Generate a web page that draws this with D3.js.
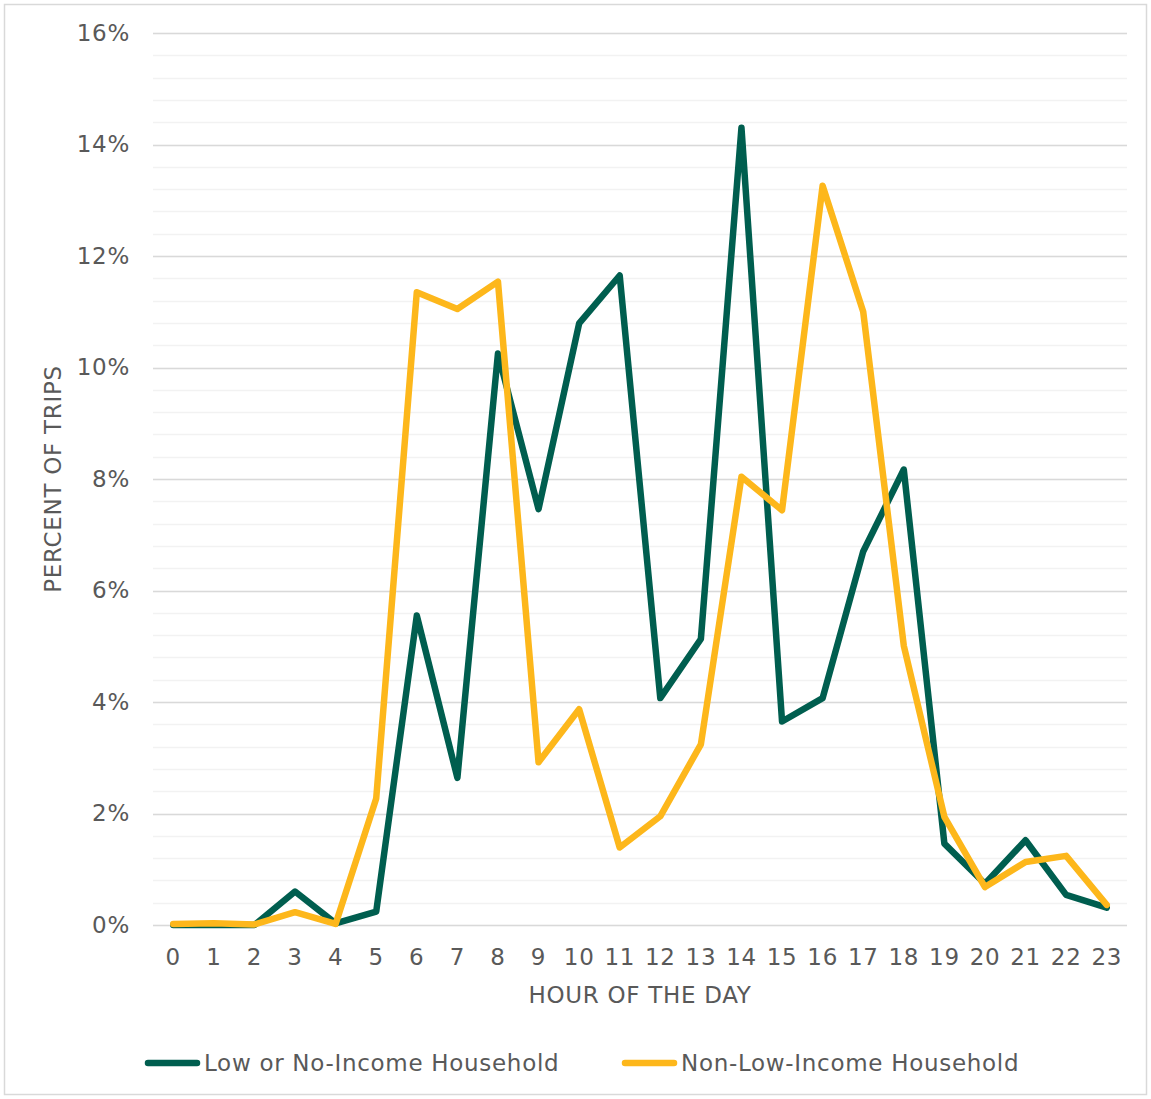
<!DOCTYPE html>
<html>
<head>
<meta charset="utf-8">
<script src="https://cdn.jsdelivr.net/npm/d3@7"></script>
<style>
  html, body { margin: 0; padding: 0; background: #fff; }
  svg { display: block; }
  text { font-family: "DejaVu Sans", Verdana, sans-serif; fill: #595959; letter-spacing: 0.7px; }
</style>
</head>
<body>
<svg id="chart" width="1151" height="1099"></svg>
<script>
const hours = d3.range(0, 24).map(String);
const lowIncome = [0.00, 0.00, 0.00, 0.60, 0.03, 0.24, 5.55, 2.64, 10.25, 7.46, 10.79, 11.65, 4.07, 5.13, 14.30, 3.65, 4.07, 6.70, 8.17, 1.46, 0.74, 1.52, 0.54, 0.31];
const nonLowIncome = [0.02, 0.03, 0.01, 0.23, 0.02, 2.27, 11.35, 11.05, 11.54, 2.92, 3.87, 1.39, 1.95, 3.24, 8.04, 7.44, 13.26, 11.00, 5.01, 1.94, 0.68, 1.13, 1.24, 0.36];
const yTicks = [0, 2, 4, 6, 8, 10, 12, 14, 16];
const yMinorTicks = d3.range(0, 16.01, 0.4);
const seriesNames = ["Low or No-Income Household", "Non-Low-Income Household"];
const seriesColors = ["#005e4f", "#fdb71b"];
const xTitle = "HOUR OF THE DAY";
const yTitle = "PERCENT OF TRIPS";

const svg = d3.select("#chart");
const W = 1151, H = 1099;
const m = { left: 153, right: 1127, top: 33, bottom: 925 };
const FS = "23px";

// outer border
svg.append("rect").attr("x", 4.5).attr("y", 4.5).attr("width", W - 9).attr("height", H - 9)
  .attr("fill", "#fff").attr("stroke", "#d9d9d9").attr("stroke-width", 1.5);

const x = d3.scaleBand().domain(hours).range([m.left, m.right]);
const y = d3.scaleLinear().domain([0, 16]).range([m.bottom, m.top]);

// minor gridlines
svg.append("g").selectAll("line").data(yMinorTicks).join("line")
  .attr("x1", m.left).attr("x2", m.right)
  .attr("y1", d => Math.round(y(d)) + 0.5).attr("y2", d => Math.round(y(d)) + 0.5)
  .attr("stroke", "#f2f2f2").attr("stroke-width", 1.5);

// major gridlines
svg.append("g").selectAll("line").data(yTicks).join("line")
  .attr("x1", m.left).attr("x2", m.right)
  .attr("y1", d => Math.round(y(d)) + 0.5).attr("y2", d => Math.round(y(d)) + 0.5)
  .attr("stroke", "#d9d9d9").attr("stroke-width", 1.5);

// y axis labels
const yAxis = d3.axisLeft(y).tickValues(yTicks).tickFormat(d => d + "%").tickSize(0).tickPadding(23);
const gy = svg.append("g").attr("transform", `translate(${m.left},0)`).call(yAxis);
gy.select(".domain").remove();
gy.selectAll("text").style("font-size", FS).attr("fill", "#595959")
  .style("font-family", '"DejaVu Sans", Verdana, sans-serif');

// x axis labels
const xAxis = d3.axisBottom(x).tickSize(0).tickPadding(24);
const gx = svg.append("g").attr("transform", `translate(0,${m.bottom})`).call(xAxis);
gx.select(".domain").remove();
gx.selectAll("text").style("font-size", FS).attr("fill", "#595959")
  .style("font-family", '"DejaVu Sans", Verdana, sans-serif');

// lines (yellow drawn last, on top)
const line = d3.line().x((d, i) => x(hours[i]) + x.bandwidth() / 2).y(d => y(d));
[lowIncome, nonLowIncome].forEach((s, idx) => {
  svg.append("path").datum(s).attr("d", line)
    .attr("fill", "none").attr("stroke", seriesColors[idx]).attr("stroke-width", 6.5)
    .attr("stroke-linejoin", "round").attr("stroke-linecap", "round");
});

// axis titles
svg.append("text").attr("x", (m.left + m.right) / 2).attr("y", 1003)
  .attr("text-anchor", "middle").style("font-size", FS).text(xTitle);
svg.append("text").attr("transform", `translate(61,${(m.top + m.bottom) / 2}) rotate(-90)`)
  .attr("text-anchor", "middle").style("font-size", FS).text(yTitle);

// legend
const legendItems = [{ x: 145, i: 0 }, { x: 622, i: 1 }];
legendItems.forEach(it => {
  svg.append("line").attr("x1", it.x + 3).attr("x2", it.x + 52).attr("y1", 1063).attr("y2", 1063)
    .attr("stroke", seriesColors[it.i]).attr("stroke-width", 6.5).attr("stroke-linecap", "round");
  svg.append("text").attr("x", it.x + 59).attr("y", 1071).style("font-size", FS).text(seriesNames[it.i]);
});
</script>
</body>
</html>
